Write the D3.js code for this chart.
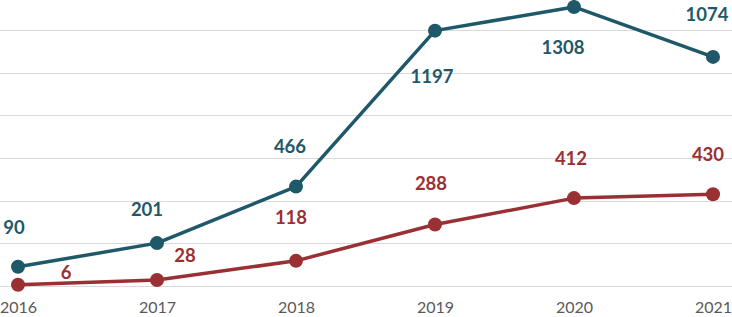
<!DOCTYPE html>
<html>
<head>
<meta charset="utf-8">
<script src="https://cdn.jsdelivr.net/npm/d3@7"></script>
<style>
  html, body { margin: 0; padding: 0; background: #fff; }
  svg { display: block; }
</style>
</head>
<body>
<div id="chart"></div>
<script>
const years = ['2016', '2017', '2018', '2019', '2020', '2021'];
const tealValues = [90, 201, 466, 1197, 1308, 1074];
const redValues = [6, 28, 118, 288, 412, 430];
const gridTicks = [0, 200, 400, 600, 800, 1000, 1200];

// label placement, relative to the point (Excel put them in odd spots)
const tealLabelOffsets = [[-4, -39], [-10, -34], [-6, -40], [-3, 46], [-11, 41], [-6, -42]];
const redLabelOffsets = [[48, -12], [28, -25], [-5, -43], [-4, -41], [-3, -40], [-5, -40]];

const width = 732;
const height = 317;
const colors = { teal: '#1f5868', red: '#9a3033' };

const svg = d3.select('#chart').append('svg')
  .attr('width', width)
  .attr('height', height);

const x = d3.scalePoint()
  .domain(years)
  .range([18, 713]);

const y = d3.scaleLinear()
  .domain([0, 1200])
  .range([286, 30]);

// gridlines
svg.append('g')
  .selectAll('line')
  .data(gridTicks)
  .enter()
  .append('line')
    .attr('x1', 0)
    .attr('x2', width)
    .attr('y1', d => Math.round(y(d)) + 0.5)
    .attr('y2', d => Math.round(y(d)) + 0.5)
    .attr('stroke', '#d9d9d9')
    .attr('stroke-width', 1.2);

// x axis labels
const xAxis = d3.axisBottom(x).tickSize(0).tickPadding(0);
const axisG = svg.append('g')
  .attr('transform', 'translate(0,302)')
  .call(xAxis);
axisG.select('.domain').remove();
axisG.selectAll('text')
  .attr('dy', '0.71em')
  .style('font-family', 'Lato, sans-serif')
  .style('font-size', '16px')
  .attr('fill', '#595959');

const line = d3.line()
  .x((d, i) => x(years[i]))
  .y(d => y(d));

function drawSeries(values, color, offsets) {
  const g = svg.append('g');

  g.append('path')
    .datum(values)
    .attr('fill', 'none')
    .attr('stroke', color)
    .attr('stroke-width', 3.5)
    .attr('stroke-linejoin', 'round')
    .attr('d', line);

  g.selectAll('circle')
    .data(values)
    .enter()
    .append('circle')
      .attr('cx', (d, i) => x(years[i]))
      .attr('cy', d => y(d))
      .attr('r', 7)
      .attr('fill', color);

  g.selectAll('text')
    .data(values)
    .enter()
    .append('text')
      .attr('x', (d, i) => x(years[i]) + offsets[i][0])
      .attr('y', (d, i) => y(d) + offsets[i][1])
      .attr('dy', '0.35em')
      .attr('text-anchor', 'middle')
      .style('font-family', 'Lato, sans-serif')
      .style('font-weight', 'bold')
      .style('font-size', '18.5px')
      .attr('fill', color)
      .text(d => d);
}

drawSeries(redValues, colors.red, redLabelOffsets);
drawSeries(tealValues, colors.teal, tealLabelOffsets);
</script>
</body>
</html>
